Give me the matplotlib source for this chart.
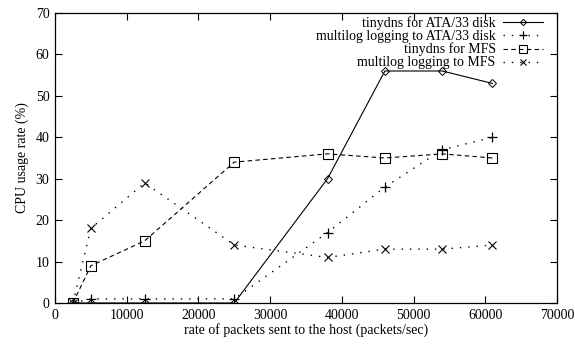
import matplotlib.pyplot as plt

# Data
rate = [2500, 5000, 12500, 25000, 38000, 46000, 54000, 61000]
tinydns_ata = [0, 0, 0, 0, 30, 56, 56, 53]
multilog_ata = [0, 1, 1, 1, 17, 28, 37, 40]
tinydns_mfs = [0, 9, 15, 34, 36, 35, 36, 35]
multilog_mfs = [0, 18, 29, 14, 11, 13, 13, 14]

labels = ['tinydns for ATA/33 disk', 'multilog logging to ATA/33 disk',
          'tinydns for MFS', 'multilog logging to MFS']

plt.rcParams['font.family'] = ['Liberation Serif', 'DejaVu Serif']

fig = plt.figure(figsize=(5.75, 3.45), dpi=100)
ax = fig.add_axes([55 / 575, 1 - 303 / 345, 502 / 575, 290 / 345])

dot = (0, (1, 5))
ax.plot(rate, tinydns_ata, color='black', lw=0.8, ls='-',
        marker='D', ms=4, mfc='none', mew=0.7, label=labels[0])
ax.plot(rate, multilog_ata, color='black', lw=1.0, ls=dot,
        marker='+', ms=7, mew=0.9, label=labels[1])
ax.plot(rate, tinydns_mfs, color='black', lw=0.8, ls=(0, (4, 3)),
        marker='s', ms=7, mfc='none', mew=0.8, label=labels[2])
ax.plot(rate, multilog_mfs, color='black', lw=1.0, ls=dot,
        marker='x', ms=6, mew=0.8, label=labels[3])

ax.set_xlim(0, 70000)
ax.set_ylim(0, 70)
ax.set_xticks(range(0, 70001, 10000))
ax.set_yticks(range(0, 71, 10))
ax.tick_params(direction='in', length=5, width=0.8, top=True, right=True,
               labelsize=10, pad=4)
for s in ax.spines.values():
    s.set_linewidth(0.9)

ax.set_xlabel('rate of packets sent to the host (packets/sec)', fontsize=10, labelpad=1)
ax.set_ylabel('CPU usage rate (%)', fontsize=10, labelpad=5)

leg = ax.legend(loc='upper right', bbox_to_anchor=(0.972, 0.99), frameon=False,
                markerfirst=False, fontsize=10, handlelength=2.9,
                handletextpad=0.5, labelspacing=0.0, borderpad=0.0,
                borderaxespad=0.0, markerscale=0.8)

fig.savefig('out.png', dpi=100)
